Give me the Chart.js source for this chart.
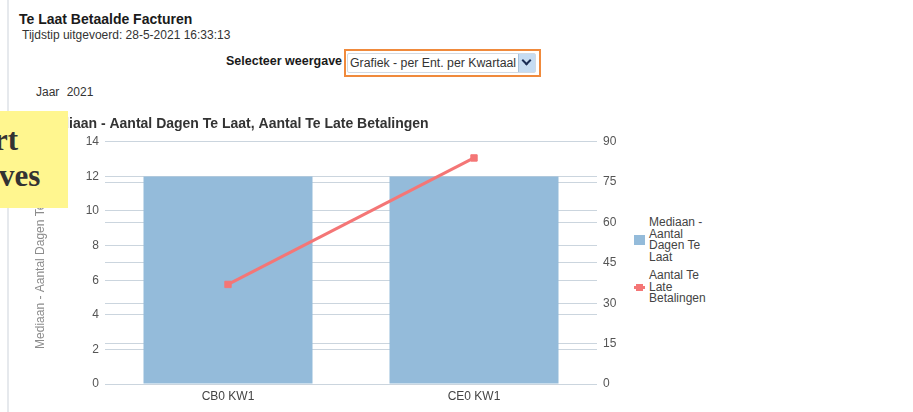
<!DOCTYPE html>
<html>
<head>
<meta charset="utf-8">
<script src="https://cdn.jsdelivr.net/npm/chart.js@4.4.1/dist/chart.umd.min.js"></script>
<style>
  body { margin: 0; width: 913px; height: 412px; overflow: hidden; background: #fff; position: relative;
         font-family: "Liberation Sans", Arial, sans-serif; color: #222; }
  .abs { position: absolute; white-space: nowrap; }
  #edge { left: 7px; top: 0; width: 2px; height: 412px; background: #e6e9ed; }
  #pageTitle { left: 19px; top: 11px; font-size: 14px; line-height: 16px; font-weight: bold; color: #1a1a1a; }
  #runTime { left: 22px; top: 27px; font-size: 12px; line-height: 16px; color: #333; }
  #selLabel { left: 226px; top: 53px; font-size: 12.5px; line-height: 16px; font-weight: bold; color: #1a1a1a; }
  #sel { left: 344px; top: 49px; width: 197px; height: 28px; border: 2px solid #f08a3c; box-sizing: border-box; }
  #selInner { position: absolute; left: 1px; top: 2px; width: 189px; height: 20px; border: 1px solid #d3dae2;
              box-sizing: border-box; font-size: 12.3px; line-height: 18px; padding-left: 2px; color: #333; border-radius: 2px; }
  #arrow { position: absolute; right: 0; top: 0; width: 16px; height: 18px; background: #c6dcf2; border-left: 1px solid #a8c2dd; }
  #arrow::after { content: ""; position: absolute; left: 4px; top: 3px; width: 5px; height: 5px;
                  border-right: 2.5px solid #1b2d55; border-bottom: 2.5px solid #1b2d55; transform: rotate(45deg); }
  #year { left: 36px; top: 84px; font-size: 12px; line-height: 16px; color: #333; word-spacing: 4px; }
  #chartBox { position: absolute; left: 29px; top: 106px; width: 600px; height: 306px; }
  #legend { position: absolute; left: 634px; top: 217px; font-size: 12px; line-height: 11.5px; color: #444; }
  .item { display: flex; align-items: center; margin-bottom: 7px; }
  .item .txt { width: 64px; white-space: normal; margin-left: 4px; }
  .swatch { width: 11px; height: 10px; }
  .lineMark { width: 11px; height: 3px; position: relative; }
  .lineMark::after { content: ""; position: absolute; left: 2px; top: -2px; width: 7px; height: 7px; background: inherit; }
  #note { left: 0; top: 111px; width: 68px; height: 97px; background: #fff68f; overflow: hidden; z-index: 5;
          font-family: "Liberation Serif", "Times New Roman", serif; font-weight: bold; font-size: 31px; line-height: 36px; color: #333; }
  #note span { position: absolute; }
</style>
</head>
<body>
<div class="abs" id="edge"></div>
<div class="abs" id="pageTitle">Te Laat Betaalde Facturen</div>
<div class="abs" id="runTime">Tijdstip uitgevoerd: 28-5-2021 16:33:13</div>
<div class="abs" id="selLabel">Selecteer weergave</div>
<div class="abs" id="sel"><div id="selInner">Grafiek - per Ent. per Kwartaal<div id="arrow"></div></div></div>
<div class="abs" id="year">Jaar 2021</div>
<div id="chartBox"><canvas id="lateChart" width="600" height="306"></canvas></div>
<div id="legend"></div>
<div class="abs" id="note"><span style="left:-6px;top:11px">rt</span><span style="left:-1px;top:47px">ves</span></div>

<script>
const categories = ["CB0 KW1", "CE0 KW1"];
const medianDaysLate = [12, 12];
const latePayments = [37, 84];
const seriesNames = ["Mediaan - Aantal Dagen Te Laat", "Aantal Te Late Betalingen"];
const chartTitle = "Mediaan - Aantal Dagen Te Laat, Aantal Te Late Betalingen";
const leftMax = 14, leftStep = 2;
const rightMax = 90, rightStep = 15;

const barColor = "#94bbda";
const lineColor = "#f47676";
const gridColor = "#cbd5de";

Chart.defaults.font.family = '"Liberation Sans", Arial, sans-serif';
Chart.defaults.font.size = 12;

const ctx = document.getElementById("lateChart").getContext("2d");
new Chart(ctx, {
  type: "bar",
  data: {
    labels: categories,
    datasets: [
      {
        type: "bar",
        label: seriesNames[0],
        data: medianDaysLate,
        backgroundColor: barColor,
        yAxisID: "y",
        order: 1,
        barPercentage: 0.687,
        categoryPercentage: 1
      },
      {
        type: "line",
        label: seriesNames[1],
        data: latePayments,
        borderColor: lineColor,
        backgroundColor: lineColor,
        borderWidth: 3,
        pointStyle: "rect",
        pointRadius: 4.5,
        pointBorderWidth: 1,
        tension: 0,
        yAxisID: "y1",
        order: 0
      }
    ]
  },
  options: {
    responsive: false,
    animation: false,
    layout: { padding: { left: 12, top: 0, right: 0, bottom: 0 } },
    plugins: {
      legend: { display: false },
      tooltip: { enabled: false },
      title: {
        display: true,
        text: chartTitle,
        align: "start",
        color: "#333",
        font: { size: 14, weight: "bold" },
        padding: { top: 10, bottom: 9 }
      }
    },
    scales: {
      x: {
        grid: { display: false, drawTicks: false },
        border: { display: false },
        ticks: { color: "#444", padding: 5 },
        afterFit: s => { s.height = 28; }
      },
      y: {
        position: "left",
        min: 0,
        max: leftMax,
        ticks: { stepSize: leftStep, padding: 6, color: "#555" },
        grid: { color: gridColor, drawTicks: false },
        border: { display: false },
        title: {
          display: true,
          text: seriesNames[0],
          color: "#8c8c8c",
          font: { size: 12 },
          padding: { top: -8, bottom: 0 }
        },
        afterFit: s => { s.width = 64; }
      },
      y1: {
        position: "right",
        min: 0,
        max: rightMax,
        ticks: { stepSize: rightStep, padding: 6, color: "#555" },
        grid: { color: gridColor, drawTicks: false },
        border: { display: false },
        afterFit: s => { s.width = 32; }
      }
    }
  }
});

// legend built from the same names/colours
const legend = document.getElementById("legend");
seriesNames.forEach((name, i) => {
  const item = document.createElement("div");
  item.className = "item";
  const mark = document.createElement("div");
  mark.className = i === 0 ? "swatch" : "lineMark";
  mark.style.background = i === 0 ? barColor : lineColor;
  const txt = document.createElement("div");
  txt.className = "txt";
  txt.textContent = name;
  item.appendChild(mark);
  item.appendChild(txt);
  legend.appendChild(item);
});
</script>
</body>
</html>
